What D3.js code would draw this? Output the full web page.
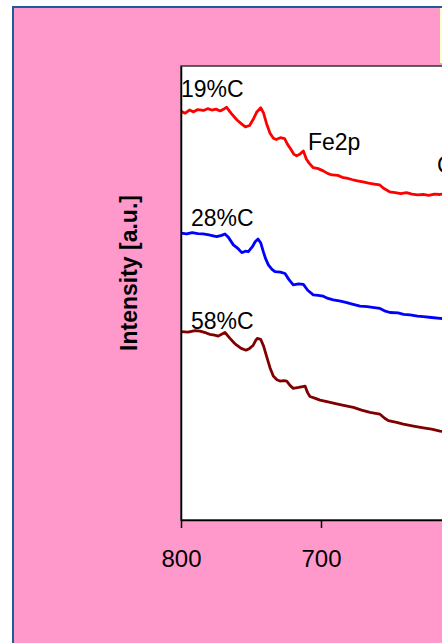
<!DOCTYPE HTML>
<html>
<head>
<meta charset="utf-8">
<script src="https://d3js.org/d3.v7.min.js"></script>
<style>
  body { margin: 0; background: white; }
  text { font-family: Arial, "Liberation Sans", sans-serif; }
</style>
</head>
<body>
<svg id="svgMain" width="442" height="643"></svg>

<script>
// binding energy (eV) and intensity (a.u.)
var energy19 = [800,797,794,791,788,784,781,778,775,772,769,767.4,764,760,757,754,751,748.5,746,743,741,739,736.4,734,732,729,726,724,722,719.5,717.4,715,712.6,710.5,708.5,705.5,702,698.4,695,692,688,684,681.6,678,674,670,666,662,658,655,651,647,643,639,635,631,627,623,619,615,611,607,603,600];
var int19    = [90.0,89.6,90.3,89.9,90.4,90.2,90.6,90.3,90.5,90.1,90.6,90.9,89.5,88.1,87.3,86.6,86.9,88.2,89.8,90.8,89.6,87.4,85.2,84.1,83.8,84.2,84.0,82.8,81.9,80.6,80.2,80.6,81.3,79.5,78.6,77.6,77.4,76.9,76.3,76.0,75.9,75.4,75.3,75.0,74.7,74.5,74.2,74.0,73.8,73.0,72.3,72.1,71.9,72.1,71.8,71.6,71.7,71.5,71.8,71.7,71.9,72.2,72.4,72.6];

var energy28 = [800,796,792,788,784.3,780,777,774.5,771,768.6,766,762.6,759,756.6,754,751.9,749,747,745,743,741.2,739.5,737.6,735,732.9,729,725.7,723,719.8,716,712.6,709.5,705.5,702,698.4,695,691.2,686,681.6,677,672.1,667,662,657.9,654,650.7,645,641,636.4,631,626.9,621,615,608,600];
var int28    = [63.2,63.0,63.3,63.1,63.0,62.8,62.6,62.4,62.7,63.0,62.2,60.6,59.7,58.9,59.2,59.1,60.2,61.3,61.9,61.0,59.1,57.5,56.2,55.2,54.7,54.6,54.3,53.0,51.8,52.0,51.9,50.6,49.6,49.5,49.3,48.8,48.5,48.2,47.9,47.5,47.1,47.0,46.8,46.6,46.0,45.7,45.6,45.3,45.2,44.9,44.8,44.6,44.4,44.3,44.1];

var energy58 = [800,795,790,786.4,782,779.3,776,773.4,771,768.6,765,762,760.2,757,753.6,751,748.4,746.5,745.5,743.1,741,738.8,736.5,734.1,731.5,729.3,726.5,724.5,722,719.8,716,713,711.4,709.5,707.9,704,700.7,695,688.8,683,676.9,671,665,661,657.9,654.5,651.9,646,641.2,634,626.9,621,615,608,600];
var int58    = [41.5,41.4,41.7,41.6,41.2,40.9,40.7,40.5,40.9,41.3,40.0,39.0,38.5,37.8,37.4,37.8,38.5,39.6,40.0,39.8,38.3,36.0,33.6,31.7,30.9,30.6,30.7,30.6,29.6,29.0,29.2,29.4,29.5,28.0,27.2,26.8,26.4,26.0,25.6,25.2,24.8,24.2,23.7,23.5,23.3,22.4,21.9,21.5,21.1,20.7,20.3,20.0,19.6,19.3,19.0];

var seriesNames  = ["19%C", "28%C", "58%C"];
var seriesColors = ["#ff0000", "#0000ff", "#800000"];

var xTicks = [800, 700, 600];

// annotations: text, energy, intensity
var noteText   = ["19%C", "28%C", "58%C", "Fe2p", "Cr2p"];
var noteEnergy = [800, 792.9, 792.9, 709.3, 617.1];
var noteInt    = [93.2, 64.8, 42.1, 81.5, 76.4];

var svg = d3.select("#svgMain");

// pink background panel
svg.append("rect")
  .attr("x", 13).attr("y", 7)
  .attr("width", 500).attr("height", 700)
  .attr("fill", "#ff99cc")
  .attr("stroke", "#1f5c99")
  .attr("stroke-width", 2);

// yellow box peeking in at the top right
svg.append("rect")
  .attr("x", 440).attr("y", 8)
  .attr("width", 60).attr("height", 55)
  .attr("fill", "#ffffcc");

var xs = d3.scaleLinear().domain([800, 600]).range([181, 461]);
var ys = d3.scaleLinear().domain([0, 100]).range([520, 66]);

// plot area
svg.append("rect")
  .attr("x", 181).attr("y", 66)
  .attr("width", 400).attr("height", 454)
  .attr("fill", "white")
  .attr("stroke", "#333")
  .attr("stroke-width", 1.5);

var line = d3.line()
  .x(function (d) { return xs(d[0]); })
  .y(function (d) { return ys(d[1]); });

var allSeries = [
  d3.zip(energy19, int19),
  d3.zip(energy28, int28),
  d3.zip(energy58, int58)
];

svg.selectAll("path.spec")
  .data(allSeries)
  .enter()
  .append("path")
  .attr("class", "spec")
  .attr("d", line)
  .attr("fill", "none")
  .attr("stroke", function (d, i) { return seriesColors[i]; })
  .attr("stroke-width", 2.8)
  .attr("stroke-linejoin", "round");

// axes
var xAxis = d3.axisBottom(xs)
  .tickValues(xTicks)
  .tickSize(8)
  .tickSizeOuter(0)
  .tickPadding(22);
var gx = svg.append("g")
  .attr("transform", "translate(0,520)")
  .call(xAxis);
gx.select(".domain").attr("stroke", "black").attr("stroke-width", 1.5);
gx.selectAll(".tick line").attr("stroke", "black").attr("stroke-width", 1.5);
gx.selectAll(".tick text")
  .attr("fill", "black")
  .style("font-size", "24px")
  .style("font-family", "Arial, 'Liberation Sans', sans-serif");

var yAxis = d3.axisLeft(ys).tickValues([]).tickSizeOuter(0);
var gy = svg.append("g")
  .attr("transform", "translate(181,0)")
  .call(yAxis);
gy.select(".domain").attr("stroke", "black").attr("stroke-width", 1.5);

svg.append("text")
  .attr("transform", "translate(137,273) rotate(-90)")
  .attr("text-anchor", "middle")
  .attr("font-weight", "bold")
  .attr("font-size", "23px")
  .attr("fill", "black")
  .text("Intensity [a.u.]");

// curve labels
svg.selectAll("text.note")
  .data(noteText)
  .enter()
  .append("text")
  .attr("class", "note")
  .attr("x", function (d, i) { return xs(noteEnergy[i]); })
  .attr("y", function (d, i) { return ys(noteInt[i]); })
  .attr("font-size", "23px")
  .attr("fill", "black")
  .text(function (d) { return d; });
</script>
</body>
</html>
